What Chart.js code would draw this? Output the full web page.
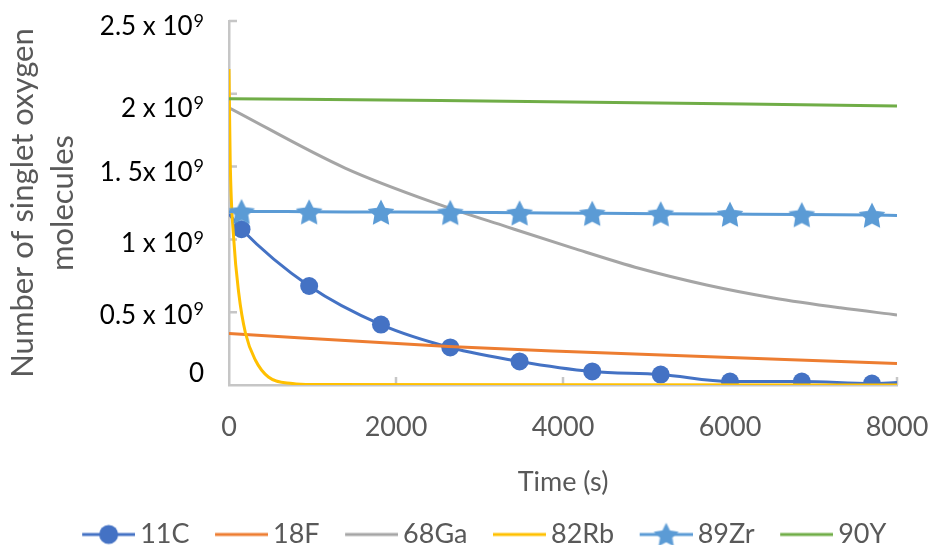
<!DOCTYPE html>
<html>
<head>
<meta charset="utf-8">
<script src="https://cdn.jsdelivr.net/npm/chart.js@4.4.0/dist/chart.umd.min.js"></script>
<style>
  html, body { margin: 0; padding: 0; background: #fff; }
  #chart { display: block; }
</style>
</head>
<body>
<canvas id="chart" width="931" height="545"></canvas>
<script>
// values are in units of 10^9 molecules, time in seconds
const yTickBase = ['0', '0.5 x 10', '1 x 10', '1. 5x 10', '2 x 10', '2.5 x 10'];
const yTickExp = ['', '9', '9', '9', '9', '9'];
const seriesNames = ['11C', '18F', '68Ga', '82Rb', '89Zr', '90Y'];
const seriesColors = ['#4472C4', '#ED7D31', '#A5A5A5', '#FFC000', '#5B9BD5', '#70AD47'];

// 11C and 89Zr share the marker times (first and last point carry no marker)
const markerTimes = [0, 150, 960, 1820, 2650, 3480, 4350, 5170, 6000, 6860, 7700, 8000];
const c11Values = [1.175, 1.07, 0.68, 0.415, 0.258, 0.162, 0.093, 0.072, 0.024, 0.024, 0.010, 0.017];
const zr89Values = [1.19, 1.192, 1.19, 1.188, 1.186, 1.183, 1.18, 1.177, 1.174, 1.171, 1.167, 1.165];

const f18Times = [0, 2630, 3960, 8000];
const f18Values = [0.354, 0.265, 0.232, 0.148];

const ga68Times = [0, 1390, 2530, 3330, 4120, 4920, 5720, 6520, 7320, 8000];
const ga68Values = [1.904, 1.49, 1.237, 1.086, 0.94, 0.80, 0.687, 0.598, 0.53, 0.481];

const rb82Times = [0, 14, 57, 117, 197, 317, 472, 760, 1000, 8000];
const rb82Values = [2.17, 1.55, 1.0, 0.63, 0.357, 0.17, 0.055, 0.01, 0.003, 0];

const y90Times = [0, 2530, 8000];
const y90Values = [1.966, 1.954, 1.917];

const axisColor = '#C6C6C6';
const textGray = '#595959';
// the y labels in the original are not quite level with their ticks
const yLabelNudge = [-11, 3, 4.5, 6, 15, 5.7];

const pts = (xs, ys) => xs.map((x, i) => ({ x: x, y: ys[i] }));
const markerRadius = r => markerTimes.map((t, i) => (i === 0 || i === markerTimes.length - 1) ? 0 : r);

function starCanvas(r, color) {
  const c = document.createElement('canvas');
  const s = Math.ceil(r * 2 + 2);
  c.width = c.height = s;
  const g = c.getContext('2d');
  g.fillStyle = color;
  g.beginPath();
  for (let i = 0; i < 10; i++) {
    const a = -Math.PI / 2 + i * Math.PI / 5;
    const rr = i % 2 ? r * 0.5 : r;
    g.lineTo(s / 2 + rr * Math.cos(a), s / 2 + rr * Math.sin(a) + r * 0.1);
  }
  g.closePath();
  g.fill();
  return c;
}

// legend icon: line segment with the series marker in the middle
function legendIcon(color, marker) {
  const c = document.createElement('canvas');
  c.width = 77; c.height = 30;
  const g = c.getContext('2d');
  g.strokeStyle = color;
  g.lineWidth = 3;
  g.beginPath(); g.moveTo(24, 15); g.lineTo(77, 15); g.stroke();
  if (marker === 'circle') {
    g.fillStyle = color;
    g.beginPath(); g.arc(50.5, 15, 9.5, 0, Math.PI * 2); g.fill();
  } else if (marker === 'star') {
    const st = starCanvas(13, color);
    g.drawImage(st, 50.5 - st.width / 2, 15 - st.height / 2);
  }
  return c;
}

const starImg = starCanvas(14, seriesColors[4]);
const legendIcons = [
  legendIcon(seriesColors[0], 'circle'),
  legendIcon(seriesColors[1]),
  legendIcon(seriesColors[2]),
  legendIcon(seriesColors[3]),
  legendIcon(seriesColors[4], 'star'),
  legendIcon(seriesColors[5])
];

// Excel style tick marks pointing into the plot
const innerTicks = {
  id: 'innerTicks',
  beforeDatasetsDraw(chart) {
    const { ctx, scales: { x, y } } = chart;
    ctx.save();
    ctx.strokeStyle = axisColor;
    ctx.lineWidth = 2.5;
    ctx.beginPath();
    y.ticks.forEach(t => {
      if (t.value === 0) return;
      const py = y.getPixelForValue(t.value);
      ctx.moveTo(x.left, py); ctx.lineTo(x.left + 8, py);
    });
    x.ticks.forEach(t => {
      if (t.value === 0) return;
      const px = x.getPixelForValue(t.value);
      ctx.moveTo(px, y.bottom); ctx.lineTo(px, y.bottom - 8);
    });
    ctx.stroke();
    ctx.restore();
  }
};

// y tick labels with a real superscript exponent
const yLabels = {
  id: 'yLabels',
  afterDraw(chart) {
    const { ctx, scales: { y } } = chart;
    ctx.save();
    ctx.fillStyle = '#000000';
    ctx.textBaseline = 'middle';
    ctx.textAlign = 'right';
    y.ticks.forEach((t, i) => {
      const py = y.getPixelForValue(t.value) + yLabelNudge[i];
      let right = 204;
      if (yTickExp[i]) {
        ctx.font = '18px Lato';
        ctx.fillText(yTickExp[i], right, py - 6);
        right -= ctx.measureText(yTickExp[i]).width + 1;
      }
      ctx.font = '26px Lato';
      ctx.fillText(yTickBase[i], right, py);
    });
    ctx.restore();
  }
};

// nudge the legend row to where it sits in the original
const legendShift = {
  id: 'legendShift',
  afterLayout(chart) {
    const lg = chart.legend;
    if (!lg || !lg.lineWidths) return;
    const pad = lg.options.labels.padding;
    const lw = lg.lineWidths[0];
    const curX = (lg.left + pad + lg.right - lw) / 2;
    const dx = (481.5 - lw / 2) - curX;
    lg.left += dx; lg.right += dx;
    lg.top += 13; lg.bottom += 13;
  }
};

function draw() {
  Chart.defaults.font.family = 'Lato, "Open Sans", sans-serif';

  const base = { borderWidth: 3, pointRadius: 0, pointHoverRadius: 0, cubicInterpolationMode: 'monotone', fill: false };

  new Chart(document.getElementById('chart'), {
    type: 'line',
    data: {
      datasets: [
        Object.assign({}, base, {
          label: seriesNames[0], data: pts(markerTimes, c11Values), order: 5,
          borderColor: seriesColors[0], backgroundColor: seriesColors[0],
          pointRadius: markerRadius(9), pointBorderWidth: 0, pointBackgroundColor: seriesColors[0]
        }),
        Object.assign({}, base, {
          label: seriesNames[1], data: pts(f18Times, f18Values), order: 4,
          borderColor: seriesColors[1], backgroundColor: seriesColors[1]
        }),
        Object.assign({}, base, {
          label: seriesNames[2], data: pts(ga68Times, ga68Values), order: 3,
          borderColor: seriesColors[2], backgroundColor: seriesColors[2]
        }),
        Object.assign({}, base, {
          label: seriesNames[3], data: pts(rb82Times, rb82Values), order: 2,
          borderColor: seriesColors[3], backgroundColor: seriesColors[3]
        }),
        Object.assign({}, base, {
          label: seriesNames[4], data: pts(markerTimes, zr89Values), order: 1,
          borderColor: seriesColors[4], backgroundColor: seriesColors[4],
          pointRadius: markerRadius(14), pointStyle: starImg
        }),
        Object.assign({}, base, {
          label: seriesNames[5], data: pts(y90Times, y90Values), order: 0,
          borderColor: seriesColors[5], backgroundColor: seriesColors[5]
        })
      ]
    },
    options: {
      responsive: false,
      animation: false,
      devicePixelRatio: 1,
      layout: { padding: { left: 0, right: 34, top: 21, bottom: 0 } },
      plugins: {
        tooltip: { enabled: false },
        legend: {
          position: 'bottom',
          labels: {
            usePointStyle: true,
            pointStyleWidth: 60,
            padding: 10,
            color: textGray,
            font: { size: 27 },
            generateLabels: chart => chart.data.datasets.map((ds, i) => ({
              text: ds.label,
              fillStyle: ds.borderColor,
              strokeStyle: ds.borderColor,
              lineWidth: 0,
              pointStyle: legendIcons[i],
              fontColor: textGray,
              hidden: false,
              datasetIndex: i
            }))
          }
        }
      },
      scales: {
        x: {
          type: 'linear',
          min: 0,
          max: 8000,
          afterFit: s => { s.height = 113; s.paddingLeft = 0; s.paddingRight = 0; },
          border: { display: true, color: axisColor, width: 2.5 },
          grid: { drawOnChartArea: false, drawTicks: false },
          ticks: {
            stepSize: 2000, color: textGray, font: { size: 27 }, padding: 26, maxRotation: 0,
            callback: v => String(v)
          },
          title: { display: true, text: 'Time (s)', color: textGray, font: { size: 27 }, padding: { top: 0, bottom: 0 } }
        },
        y: {
          min: 0,
          max: 2.5,
          afterFit: s => { s.width = 229; s.paddingTop = 0; s.paddingBottom = 0; },
          border: { display: true, color: axisColor, width: 2.5 },
          grid: { drawOnChartArea: false, drawTicks: false },
          ticks: { stepSize: 0.5, display: false },
          title: {
            display: true,
            text: ['Number of singlet oxygen', 'molecules'],
            color: textGray,
            font: { size: 31, lineHeight: 1.29 },
            padding: { top: 3, bottom: 0 }
          }
        }
      }
    },
    plugins: [innerTicks, yLabels, legendShift]
  });
}

if (document.fonts && document.fonts.load) {
  Promise.all([document.fonts.load('27px Lato'), document.fonts.load('18px Lato')]).then(draw, draw);
} else {
  draw();
}
</script>
</body>
</html>
